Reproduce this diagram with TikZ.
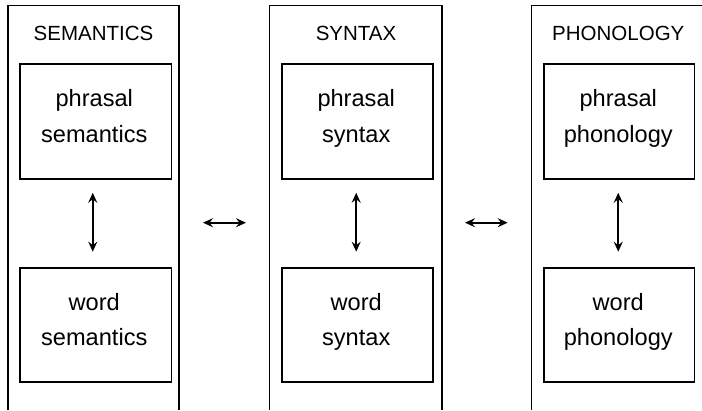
\documentclass[tikz,border=0pt]{standalone}
\usepackage{fontspec}
\setmainfont{Liberation Sans}
\usetikzlibrary{arrows.meta,calc}
\begin{document}
\begin{tikzpicture}[x=1pt,y=-1pt,
  frame/.style={line width=1.8pt,line join=miter},
  inbox/.style={draw,line width=1.8pt,minimum width=151pt,minimum height=115pt,inner sep=0pt,outer sep=0pt},
  intext/.style={font=\fontsize{23.6}{35.4}\selectfont,align=center,inner sep=0pt},
  title/.style={font=\fontsize{20.5}{24}\selectfont,anchor=base,inner sep=0pt},
  link/.style={line width=1.6pt,{Stealth[length=10pt,width=9pt,inset=3.5pt]}-{Stealth[length=10pt,width=9pt,inset=3.5pt]}}]
\useasboundingbox (0,0) rectangle (702,410);
% outer frames (open at the bottom)
\coordinate (semL) at (8,410);   \coordinate (semR) at (179,410);
\coordinate (synL) at (269.5,410); \coordinate (synR) at (441.7,410);
\coordinate (phoL) at (531.5,410); \coordinate (phoR) at (702,5.5);
\draw[frame] (semL) |- (179,5.5) -- (semR);
\draw[frame] (synL) |- (441.7,5.5) -- (synR);
\draw[frame] (phoL) |- (phoR);
% titles
\node[title] (tsem) at (93.5,40) {SEMANTICS};
\node[title] (tsyn) at (356,40) {SYNTAX};
\node[title] (tpho) at (618.3,40) {PHONOLOGY};
% inner boxes
\node[inbox,minimum width=151.5pt] (sp) at (95.75,121.25) {};
\node[inbox,minimum width=151.5pt,minimum height=114pt] (sw) at (95.75,324.7) {};
\node[inbox] (yp) at (357.2,121.25) {};
\node[inbox,minimum height=114pt] (yw) at (357.2,324.7) {};
\node[inbox,minimum width=150.5pt] (pp) at (619.25,121.25) {};
\node[inbox,minimum width=150.5pt,minimum height=114pt] (pw) at (619.25,324.7) {};
% texts
\node[intext] (spt) at ($(sp.center)+(-1.5,-4)$) {\strut phrasal\\\strut semantics};
\node[intext] (swt) at ($(sw.center)+(-1.5,-4)$) {\strut word\\\strut semantics};
\node[intext] (ypt) at ($(yp.center)+(-1,-4)$) {\strut phrasal\\\strut syntax};
\node[intext] (ywt) at ($(yw.center)+(-1,-4)$) {\strut word\\\strut syntax};
\node[intext] (ppt) at ($(pp.center)+(-1,-4)$) {\strut phrasal\\\strut phonology};
\node[intext] (pwt) at ($(pw.center)+(-1,-4)$) {\strut word\\\strut phonology};
% vertical links
\draw[link,shorten <=14pt,shorten >=16pt] ([xshift=-3pt]sp.south) -- ([xshift=-3pt]sw.north);
\draw[link,shorten <=14pt,shorten >=16pt] ([xshift=-1pt]yp.south) -- ([xshift=-1pt]yw.north);
\draw[link,shorten <=14pt,shorten >=16pt] ([xshift=-1pt]pp.south) -- ([xshift=-1pt]pw.north);
% horizontal links
\coordinate (a1) at (179,222.7); \coordinate (b1) at (269.5,222.7);
\coordinate (a2) at (441.7,222.7); \coordinate (b2) at (531.5,222.7);
\draw[link,shorten <=24pt,shorten >=23.5pt] (a1) -- (b1);
\draw[link,shorten <=23.3pt,shorten >=23.8pt] (a2) -- (b2);
\end{tikzpicture}
\end{document}
